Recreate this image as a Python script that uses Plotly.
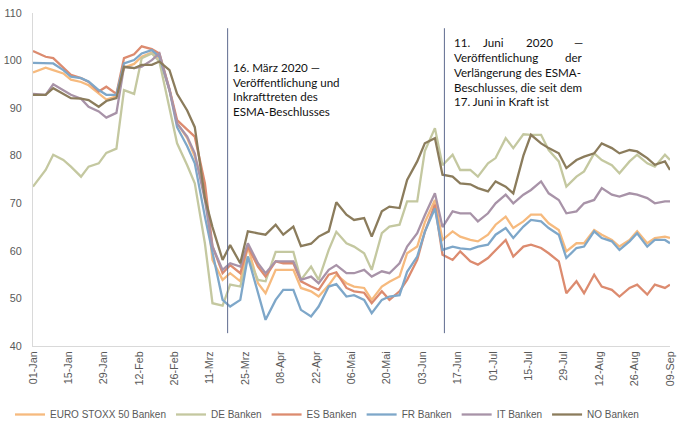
import plotly.graph_objects as go

dates = ["2020-01-01", "2020-01-06", "2020-01-09", "2020-01-13", "2020-01-16", "2020-01-20", "2020-01-23",
         "2020-01-27", "2020-01-30", "2020-02-03", "2020-02-06", "2020-02-10", "2020-02-13", "2020-02-17",
         "2020-02-20", "2020-02-24", "2020-02-27", "2020-03-02", "2020-03-05", "2020-03-09", "2020-03-12",
         "2020-03-16", "2020-03-19", "2020-03-23", "2020-03-26", "2020-03-30", "2020-04-02", "2020-04-06",
         "2020-04-09", "2020-04-13", "2020-04-16", "2020-04-20", "2020-04-23", "2020-04-27", "2020-04-30",
         "2020-05-04", "2020-05-07", "2020-05-11", "2020-05-14", "2020-05-18", "2020-05-21", "2020-05-25",
         "2020-05-28", "2020-06-01", "2020-06-04", "2020-06-08", "2020-06-11", "2020-06-15", "2020-06-18",
         "2020-06-22", "2020-06-25", "2020-06-29", "2020-07-02", "2020-07-06", "2020-07-09", "2020-07-13",
         "2020-07-16", "2020-07-20", "2020-07-23", "2020-07-27", "2020-07-30", "2020-08-03", "2020-08-06",
         "2020-08-10", "2020-08-13", "2020-08-17", "2020-08-20", "2020-08-24", "2020-08-27", "2020-08-31",
         "2020-09-03", "2020-09-07", "2020-09-09"]

euro_stoxx = [97.5, 98.5, 98, 97.3, 96, 95.5, 94.8, 93, 91.8, 92.5,
              98.5, 99.3, 100.8, 101.7, 100.5, 93.8, 86.8, 83.7, 79.8, 72.8,
              58.1, 53.9, 55.3, 53.6, 60.9, 53.2, 51.1, 56, 56, 56,
              52.2, 51.5, 50.4, 52.8, 55, 53.2, 52.5, 52.2, 49.7, 52.5,
              53.5, 54.6, 59.5, 60.9, 66, 70.7, 62.3, 64.1, 63, 62.3,
              62, 63.4, 65.5, 67.2, 64.8, 66.2, 67.6, 67.6, 65.8, 64.4,
              59.9, 61.6, 61.6, 64.4, 63.4, 62.3, 60.9, 62.3, 64.1, 61.6,
              62.7, 63, 62.7]

de_banken = [73.5, 77, 80.2, 79.1, 77.7, 75.6, 77.7, 78.4, 80.6, 81.5,
             93.8, 93, 100.5, 101.5, 99.8, 90.3, 82.6, 78, 74.2, 61.6,
             49, 48.5, 52.9, 52.5, 58.8, 53.9, 53.6, 59.8, 59.8, 59.8,
             53.9, 56.7, 53.9, 60.2, 64, 61.6, 60.9, 59.5, 56, 63.7,
             65.1, 65.5, 70.4, 70.4, 81, 85.8, 78, 80.2, 77, 77,
             75.6, 78.4, 79.5, 83.7, 81.6, 84.5, 84.4, 84.4, 81.2, 78.8,
             73.5, 75.6, 76.7, 80.5, 79.1, 78, 76.3, 78.8, 80.2, 78.4,
             77.7, 80.2, 79.1]

es_banken = [102, 100.8, 100.5, 98.5, 97, 96.3, 95.5, 93.5, 94.5, 93,
             100.5, 101.3, 103, 102.4, 101.5, 94, 87.5, 85.5, 84, 74.2,
             61, 55.3, 57, 55.3, 60.9, 56.7, 54.6, 57.8, 57.4, 57.4,
             53.6, 52.5, 51.8, 55, 55.5, 52.2, 51.5, 51.2, 49, 51.5,
             49.7, 51.5, 53.9, 58.1, 64, 69.7, 59.2, 58.1, 59.9, 57.8,
             57.1, 58.5, 60.2, 62.3, 58.8, 60.9, 61.3, 60.6, 59.5, 57.8,
             51.1, 53.6, 51.1, 55, 52.5, 51.8, 50.4, 52.2, 52.9, 50.8,
             52.9, 52.2, 52.9]

fr_banken = [99.5, 99.4, 99.4, 98, 96.6, 96.3, 95.6, 93.8, 92.8, 92.8,
             99.4, 100.1, 101.5, 102.2, 100.8, 93.8, 86, 82, 78.4, 67.2,
             59.5, 49.7, 48.3, 49.7, 58.8, 51.1, 45.5, 49.7, 51.8, 51.8,
             47.6, 46.2, 48.3, 52.5, 53, 50.4, 50.7, 49.7, 46.9, 49.7,
             50.4, 50.7, 55.6, 58.8, 64, 68.9, 60.2, 60.9, 60.5, 60.3,
             60.9, 61.3, 63.4, 64.8, 62.7, 65.1, 66.5, 66.2, 64.8, 63.4,
             58.5, 60.6, 60.9, 64.1, 62.7, 62, 60.2, 62, 63.7, 60.9,
             62.3, 62.3, 61.6]

it_banken = [93, 92.8, 95, 93.8, 92.8, 92, 90.3, 89.3, 88, 89,
             98.7, 98.4, 98.7, 100.1, 101.5, 93.8, 86.8, 84, 80.5, 70.7,
             60.9, 56, 57.4, 56.7, 61.6, 57.4, 55.3, 57.8, 57.8, 57.8,
             53.9, 54.6, 53.2, 56, 57, 55.3, 55.3, 56, 54.6, 55.7,
             55.3, 57.4, 60.9, 63.7, 67.5, 72.1, 65, 68.3, 67.9, 67.9,
             66.2, 67.9, 70, 71.8, 70, 71.8, 72.8, 74.6, 72.1, 70.7,
             67.9, 68.3, 70, 70.7, 73.2, 71.8, 71.4, 72.1, 71.8, 71.1,
             70, 70.4, 70.4]

no_banken = [92.8, 92.8, 94.2, 93.1, 92.1, 92, 91.7, 90.3, 91.5, 92.1,
             98.7, 98.4, 99.1, 99.1, 99.8, 98, 93, 89.5, 86, 71.1,
             65, 58.1, 61.2, 57.4, 64.1, 63.7, 63.4, 65.5, 63.4, 65.1,
             61, 61.5, 63, 64.1, 70.2, 67.6, 66.5, 66.9, 63, 68.3,
             69.3, 69, 74.9, 78.8, 82.6, 83.7, 76, 75.6, 74.2, 74,
             73.2, 72.5, 74.6, 73.5, 72.1, 80, 84.4, 82.6, 81.6, 80.5,
             77.4, 79.1, 79.8, 80.5, 82.6, 81.6, 80.5, 81.2, 80.9, 79.5,
             78.1, 78.8, 77]

series_names = ["EURO STOXX 50 Banken", "DE Banken", "ES Banken", "FR Banken", "IT Banken", "NO Banken"]
series_values = [euro_stoxx, de_banken, es_banken, fr_banken, it_banken, no_banken]
series_colors = ["#F6BA7E", "#C4C8A0", "#DC8B6F", "#7EA7C9", "#A893A8", "#8B7C5C"]

tick_dates = ["2020-01-01", "2020-01-15", "2020-01-29", "2020-02-12", "2020-02-26", "2020-03-11",
              "2020-03-25", "2020-04-08", "2020-04-22", "2020-05-06", "2020-05-20", "2020-06-03",
              "2020-06-17", "2020-07-01", "2020-07-15", "2020-07-29", "2020-08-12", "2020-08-26",
              "2020-09-09"]
tick_labels = ["01-Jan", "15-Jan", "29-Jan", "12-Feb", "26-Feb", "11-Mrz", "25-Mrz", "08-Apr", "22-Apr",
               "06-Mai", "20-Mai", "03-Jun", "17-Jun", "01-Jul", "15-Jul", "29-Jul", "12-Aug", "26-Aug",
               "09-Sep"]

event_dates = ["2020-03-18", "2020-06-11 18:00"]

fig = go.Figure()
for name, vals, col in zip(series_names, series_values, series_colors):
    fig.add_trace(go.Scatter(x=dates, y=vals, mode="lines", name=name,
                             line=dict(color=col, width=2.3)))

for d in event_dates:
    fig.add_shape(type="line", xref="x", yref="y", x0=d, x1=d, y0=42.7, y1=106.8,
                  line=dict(color="#5E6B8E", width=1))

L, R, T, B = 33, 13, 13, 80
W, H = 683, 426
pw, ph = W - L - R, H - T - B


def px(x):
    return (x - L) / pw


def py(y):
    return (H - B - y) / ph


txt_font = dict(family="Lato, Carlito, sans-serif", size=11.6, color="#111111")
ann = []
for i, line in enumerate(["16. März 2020 —", "Veröffentlichung und", "Inkrafttreten des", "ESMA-Beschlusses"]):
    ann.append(dict(x=px(232), y=py(67 + 15 * i), text=line, xanchor="left", yanchor="middle"))

ann += [
    dict(x=px(453), y=py(42), text="11.", xanchor="left", yanchor="middle"),
    dict(x=px(482), y=py(42), text="Juni", xanchor="left", yanchor="middle"),
    dict(x=px(525), y=py(42), text="2020", xanchor="left", yanchor="middle"),
    dict(x=px(584), y=py(42), text="—", xanchor="right", yanchor="middle"),
    dict(x=px(453), y=py(57), text="Veröffentlichung", xanchor="left", yanchor="middle"),
    dict(x=px(584), y=py(57), text="der", xanchor="right", yanchor="middle"),
    dict(x=px(453), y=py(72), text="Verlängerung des ESMA-", xanchor="left", yanchor="middle"),
    dict(x=px(453), y=py(87), text="Beschlusses, die seit dem", xanchor="left", yanchor="middle"),
    dict(x=px(453), y=py(102), text="17. Juni in Kraft ist", xanchor="left", yanchor="middle"),
]
for a in ann:
    a.update(xref="paper", yref="paper", showarrow=False, font=txt_font, borderpad=0)

axis_font = dict(family="Liberation Sans, Arial, sans-serif", size=10.8, color="#595959")

fig.update_layout(
    width=W, height=H,
    margin=dict(l=L, r=R, t=T, b=B, pad=0, autoexpand=False),
    paper_bgcolor="white", plot_bgcolor="white",
    annotations=ann,
    showlegend=True,
    legend=dict(orientation="h", xref="container", yref="container",
                x=10 / W, y=1 - 400 / H, xanchor="left", yanchor="top",
                font=dict(family="Liberation Sans, Arial, sans-serif", size=10, color="#595959"),
                bgcolor="rgba(0,0,0,0)", itemwidth=30),
    xaxis=dict(type="date", range=["2020-01-01", "2020-09-09"], tickmode="array",
               tickvals=tick_dates, ticktext=tick_labels, tickangle=-90, showgrid=False,
               zeroline=False, showline=True, linecolor="#D9D9D9", linewidth=1, ticks="",
               tickfont=axis_font, automargin=False),
    yaxis=dict(range=[40, 110], dtick=10, tick0=40, showgrid=False, zeroline=False,
               showline=True, linecolor="#D9D9D9", linewidth=1, ticks="",
               tickfont=axis_font, ticklabelstandoff=8, automargin=False),
)

fig.write_html("out.html", config={"displayModeBar": False},
               post_script="document.body.style.margin='0px';document.body.style.overflow='hidden';")
